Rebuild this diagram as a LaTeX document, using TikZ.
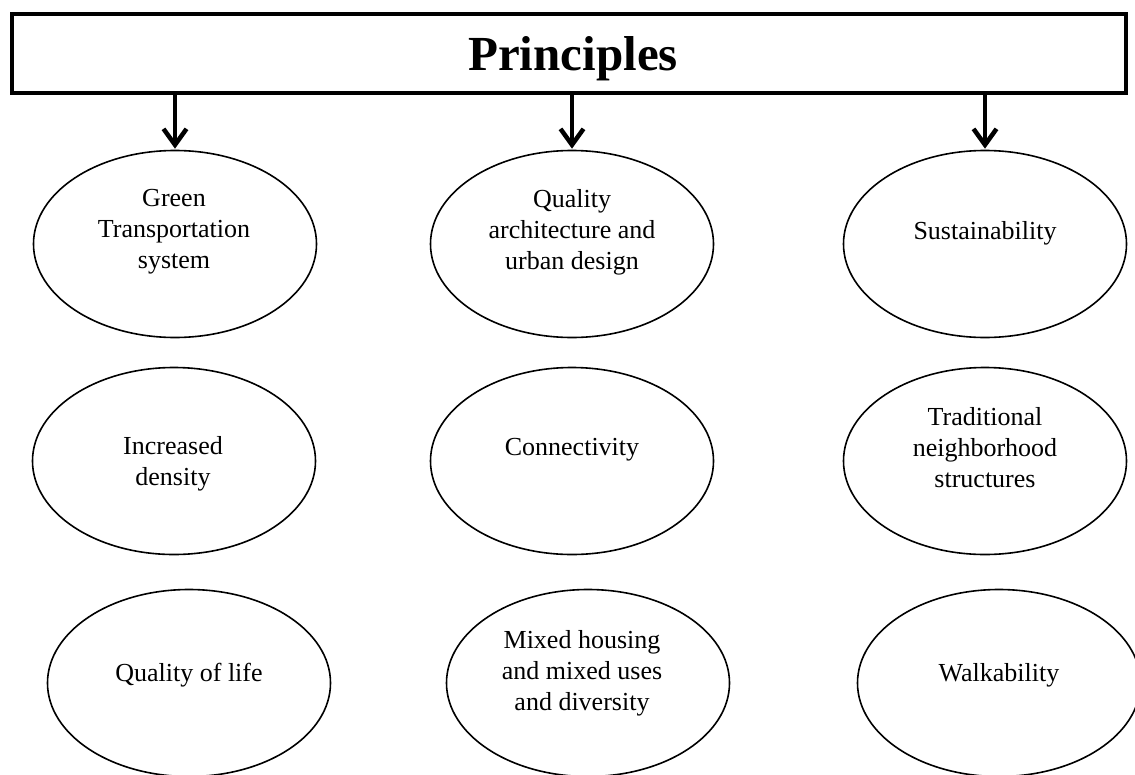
\documentclass[tikz,border=0pt]{standalone}
\usepackage{fontspec}
\setmainfont{Liberation Serif}
\usetikzlibrary{shapes.geometric,arrows.meta}
\begin{document}
\begin{tikzpicture}[x=1pt,y=-1pt,
  headbox/.style={draw, line width=4.5pt, minimum width=1114pt, minimum height=79pt, inner sep=0pt},
  headtext/.style={font=\fontsize{49}{58}\selectfont\bfseries, inner sep=0pt, anchor=base},
  oval/.style={draw, ellipse, line width=1.6pt, minimum width=283pt, minimum height=187pt, inner sep=0pt},
  ovaltext/.style={font=\fontsize{26}{31}\selectfont, align=center, inner sep=0pt},
  downarrow/.style={line width=4.5pt, -{Straight Barb[length=16pt,width=23pt]}, shorten >=1pt}
]
\useasboundingbox (0,0) rectangle (1135,774);

% heading box
\node[headbox] (top) at (568.75,53.3) {};
\node[headtext] (ttl) at (573,70) {Principles};

% first row
\node[oval] (e11) at (175,244) {};
\node[oval] (e12) at (572,244) {};
\node[oval] (e13) at (985,244) {};
% second row
\node[oval] (e21) at (174,461) {};
\node[oval] (e22) at (572,461) {};
\node[oval] (e23) at (985,461) {};
% third row
\node[oval] (e31) at (189,683) {};
\node[oval] (e32) at (588,683) {};
\node[oval] (e33) at (999,683) {};

% labels
\node[ovaltext] (t11) at (174,232) {Green\\Transportation\\system};
\node[ovaltext] (t12) at (572,232) {Quality\\architecture and\\urban design};
\node[ovaltext] (t13) at (985,233) {Sustainability};
\node[ovaltext] (t21) at (173,464) {Increased\\density};
\node[ovaltext] (t22) at (572,450) {Connectivity};
\node[ovaltext] (t23) at (985,448) {Traditional\\neighborhood\\structures};
\node[ovaltext] (t31) at (189,675) {Quality of life};
\node[ovaltext] (t32) at (582,673) {Mixed housing\\and mixed uses\\and diversity};
\node[ovaltext] (t33) at (999,675) {Walkability};

% arrows from the heading
\draw[downarrow] (e11.north |- top.south) -- (e11.north);
\draw[downarrow] (e12.north |- top.south) -- (e12.north);
\draw[downarrow] (e13.north |- top.south) -- (e13.north);
\end{tikzpicture}
\end{document}
